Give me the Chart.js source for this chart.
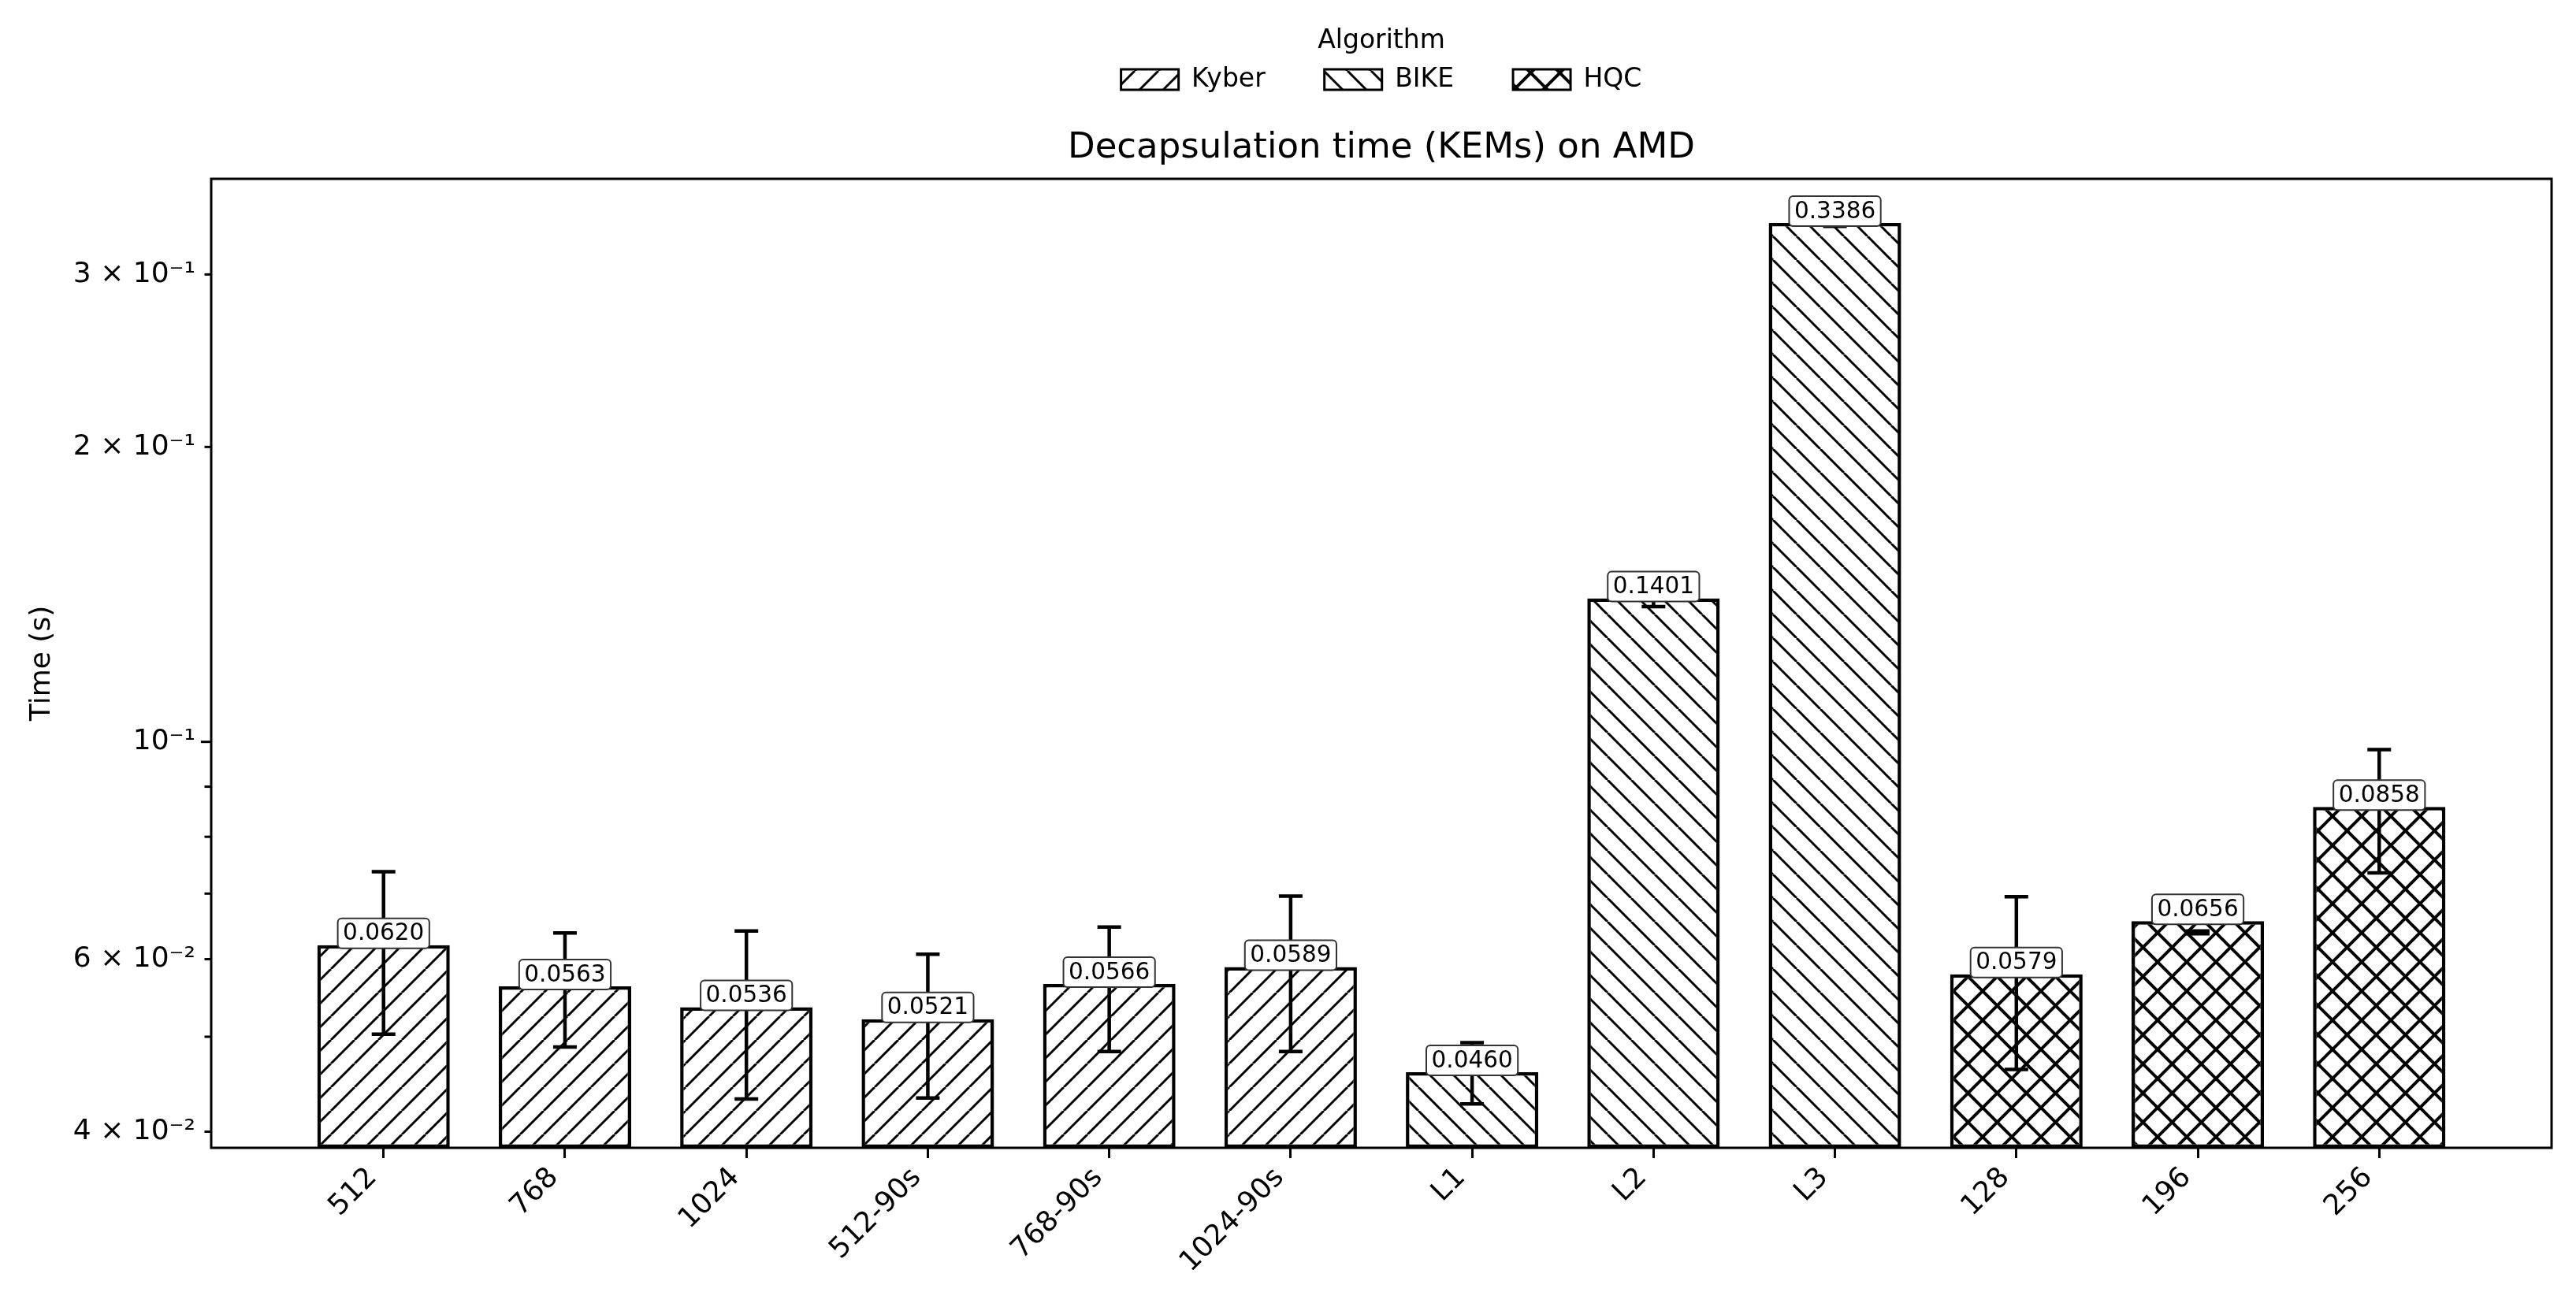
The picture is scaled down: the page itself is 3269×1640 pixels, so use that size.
<!DOCTYPE html>
<html>
<head>
<meta charset="utf-8">
<title>Decapsulation time (KEMs) on AMD</title>
<script src="https://cdn.jsdelivr.net/npm/chart.js@4.4.1/dist/chart.umd.min.js"></script>
<style>
  html, body { margin:0; padding:0; background:#fff; overflow:hidden; }
  canvas { display:block; }
</style>
</head>
<body>
<canvas id="kemChart" width="3269" height="1640"></canvas>
<script>
'use strict';

// --- data ---
const categories  = ['512','768','1024','512-90s','768-90s','1024-90s','L1','L2','L3','128','196','256'];
const algorithmOf = ['Kyber','Kyber','Kyber','Kyber','Kyber','Kyber','BIKE','BIKE','BIKE','HQC','HQC','HQC'];
const algorithms  = ['Kyber','BIKE','HQC'];
const decapTimes  = [0.0620, 0.0563, 0.0536, 0.0521, 0.0566, 0.0589, 0.0460, 0.1401, 0.3386, 0.0579, 0.0656, 0.0858];
const errLow      = [0.0503, 0.0488, 0.0432, 0.0433, 0.0483, 0.0483, 0.0427, 0.1374, 0.3360, 0.0463, 0.0637, 0.0735];
const errHigh     = [0.0737, 0.0638, 0.0641, 0.0607, 0.0647, 0.0696, 0.0493, 0.1428, 0.3412, 0.0695, 0.0641, 0.0982];
const yTickValues = [0.04, 0.05, 0.06, 0.07, 0.08, 0.09, 0.1, 0.2, 0.3];
const yTickLabels = ['4 × 10⁻²', '', '6 × 10⁻²', '', '', '', '10⁻¹', '2 × 10⁻¹', '3 × 10⁻¹'];

const FAMILY = '"DejaVu Sans", sans-serif';
Chart.defaults.font.family = FAMILY;
Chart.defaults.color = '#000';

// hatch fills, tiled from the canvas origin like matplotlib hatches
function makeHatch(kind, size, lw) {
  const c = document.createElement('canvas');
  c.width = c.height = size;
  const g = c.getContext('2d');
  g.fillStyle = '#fff'; g.fillRect(0, 0, size, size);
  g.strokeStyle = '#000'; g.lineWidth = lw;
  const fwd = () => { for (let k = -1; k <= 1; k++) { g.beginPath(); g.moveTo(k*size, size); g.lineTo(k*size + size, 0); g.stroke(); } };
  const back = () => { for (let k = -1; k <= 1; k++) { g.beginPath(); g.moveTo(k*size, 0); g.lineTo(k*size + size, size); g.stroke(); } };
  if (kind === '/' || kind === 'x') fwd();
  if (kind === '\\' || kind === 'x') back();
  return g.createPattern(c, 'repeat');
}
const ctx0 = document.getElementById('kemChart').getContext('2d');
const hatchFills = {
  Kyber: makeHatch('/', 30, 3),
  BIKE:  makeHatch('\\', 30, 3),
  HQC:   makeHatch('x', 37, 4),
};

// error bars, frame, y tick marks and boxed value labels
const overlay = {
  id: 'overlay',
  afterDatasetsDraw(chart) {
    const { ctx, chartArea: a, scales: { y } } = chart;
    const meta = chart.getDatasetMeta(0);
    ctx.save();
    ctx.strokeStyle = '#000';
    ctx.lineWidth = 3;
    ctx.strokeRect(a.left, a.top, a.right - a.left, a.bottom - a.top);
    yTickValues.forEach(v => {
      const py = y.getPixelForValue(v);
      const len = v === 0.1 ? 13 : 8.5;
      ctx.beginPath(); ctx.moveTo(a.left - len, py); ctx.lineTo(a.left, py); ctx.stroke();
    });

    ctx.lineWidth = 4.5;
    meta.data.forEach((bar, i) => {
      const t = y.getPixelForValue(errHigh[i]);
      const b = y.getPixelForValue(errLow[i]);
      ctx.beginPath();
      ctx.moveTo(bar.x, t); ctx.lineTo(bar.x, b);
      ctx.moveTo(bar.x - 15, t); ctx.lineTo(bar.x + 15, t);
      ctx.moveTo(bar.x - 15, b); ctx.lineTo(bar.x + 15, b);
      ctx.stroke();
    });

    ctx.font = `29.5px ${FAMILY}`;
    ctx.textAlign = 'center';
    ctx.textBaseline = 'middle';
    meta.data.forEach((bar, i) => {
      const txt = decapTimes[i].toFixed(4);
      const w = ctx.measureText(txt).width + 13;
      const h = 38;
      const cy = bar.y - 15;
      ctx.beginPath();
      ctx.roundRect(bar.x - w/2, cy - h/2, w, h, 5);
      ctx.fillStyle = '#fff'; ctx.fill();
      ctx.strokeStyle = '#333'; ctx.lineWidth = 2; ctx.stroke();
      ctx.fillStyle = '#000';
      ctx.fillText(txt, bar.x, cy + 1);
    });
    ctx.restore();
  }
};

new Chart(ctx0, {
  type: 'bar',
  data: {
    datasets: [{
      label: 'Decapsulation time',
      data: decapTimes.map((v, i) => ({ x: i, y: v })),
      backgroundColor: categories.map((_, i) => hatchFills[algorithmOf[i]]),
      borderColor: '#000',
      borderWidth: 4.5,
      borderSkipped: false,
      barPercentage: 0.73,
      categoryPercentage: 1,
    }]
  },
  options: {
    responsive: false,
    animation: false,
    devicePixelRatio: 1,
    layout: { padding: { left: 0, right: 31, top: 0, bottom: 0 } },
    plugins: {
      legend: {
        position: 'top',
        fullSize: false,
        labels: {
          font: { size: 33 }, color: '#000',
          boxWidth: 73, boxHeight: 26, padding: 75,
          generateLabels: () => algorithms.map(name => ({
            text: name, fillStyle: hatchFills[name], strokeStyle: '#000',
            lineWidth: 3, hidden: false, datasetIndex: 0,
          })),
        },
        title: { display: true, text: 'Algorithm', font: { size: 33 }, color: '#000', padding: { top: 35.5, bottom: -65.6 } },
      },
      title: {
        display: true,
        text: 'Decapsulation time (KEMs) on AMD',
        fullSize: false,
        weight: 500,
        font: { size: 45, weight: 'normal' }, color: '#000',
        padding: { top: 33.5, bottom: 12 },
      },
      tooltip: { enabled: false },
    },
    scales: {
      x: {
        type: 'linear', min: -0.95, max: 11.95, offset: false,
        afterBuildTicks: s => { s.ticks = categories.map((_, i) => ({ value: i })); },
        afterFit: s => { s.height = 183; },
        grid: { display: true, offset: false, drawOnChartArea: false, drawTicks: true, tickLength: 13, tickWidth: 3, tickColor: '#000', color: '#000', lineWidth: 3 },
        border: { display: false },
        ticks: {
          callback: v => categories[v], autoSkip: false,
          minRotation: 45, maxRotation: 45,
          font: { size: 36 }, color: '#000', padding: 4, labelOffset: -14,
        },
      },
      y: {
        type: 'logarithmic', min: 0.03851, max: 0.3756,
        afterBuildTicks: s => { s.ticks = yTickValues.map(v => ({ value: v })); },
        afterFit: s => { s.width = 268; },
        grid: { display: false, drawTicks: false },
        border: { display: false },
        ticks: { callback: (v, i) => yTickLabels[i], autoSkip: false, font: { size: 36 }, color: '#000', padding: 20 },
        title: { display: true, text: 'Time (s)', font: { size: 36 }, color: '#000', padding: { top: 32.4, bottom: 0 } },
      },
    },
  },
  plugins: [overlay],
});
</script>
</body>
</html>
